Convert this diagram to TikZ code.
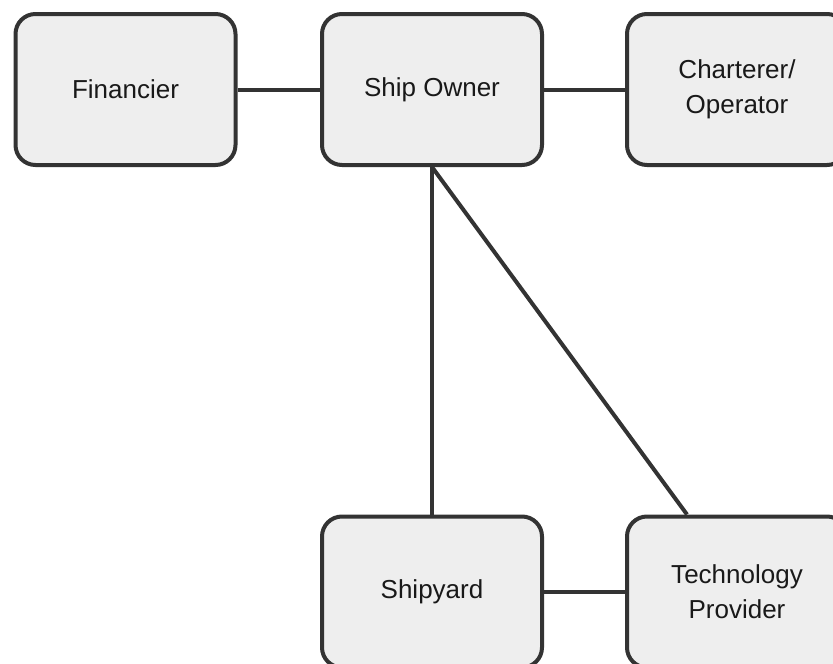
\documentclass[tikz,border=0pt]{standalone}
\usepackage{fontspec}
\setmainfont{Liberation Sans}
\usepackage{xcolor}
\definecolor{boxline}{HTML}{333333}
\definecolor{boxfill}{HTML}{EEEEEE}
\tikzset{
    party/.style={draw=boxline, fill=boxfill, line width=4pt, rounded corners=20pt,
                  minimum width=220pt, minimum height=151pt, align=center,
                  text=black!90, font=\fontsize{26}{35}\selectfont},
    link/.style={draw=boxline, line width=4pt}
}

\begin{document}
\begin{tikzpicture}[x=1pt,y=-1pt]
                \clip (0,0) rectangle (833,664);
                \node[party] (fin) at (125.5,89.5) {Financier};
                \node[party] (owner) at (432,89.5) {Ship Owner};
                \node[party] (charter) at (737,89.5) {Charterer/\\Operator};
                \node[party] (yard) at (432,592) {Shipyard};
                \node[party] (tech) at (737,592) {Technology\\Provider};
                \draw[link] (fin) -- (owner);
                \draw[link] (owner) -- (charter);
                \draw[link] (owner.south) -- (yard.north);
                \draw[link] (owner.south) -- ([xshift=62pt]tech.north west);
                \draw[link] (yard) -- (tech);
            \end{tikzpicture}
\end{document}
